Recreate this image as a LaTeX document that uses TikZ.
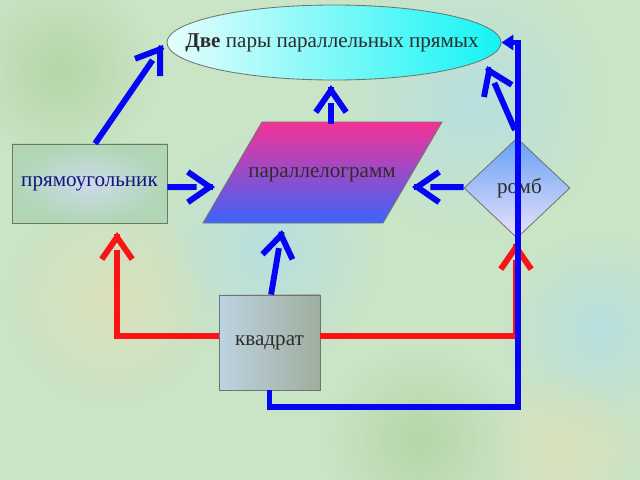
\documentclass[tikz,border=0pt]{standalone}
\usepackage{fontspec}
\setmainfont{Liberation Serif}
\usetikzlibrary{arrows.meta,shapes.geometric,fadings,calc}
\definecolor{bgbase}{RGB}{202,228,198}
\definecolor{bgblue}{RGB}{184,224,224}
\definecolor{bgtan}{RGB}{218,224,186}
\definecolor{bggreen}{RGB}{182,214,168}
\definecolor{lineblue}{RGB}{5,5,245}
\definecolor{linered}{RGB}{250,20,20}
\definecolor{ellL}{RGB}{230,253,253}
\definecolor{ellR}{RGB}{20,244,244}
\definecolor{parT}{RGB}{245,50,150}
\definecolor{parB}{RGB}{60,100,250}
\definecolor{recIn}{RGB}{205,218,234}
\definecolor{recOut}{RGB}{176,214,180}
\definecolor{sqL}{RGB}{190,210,226}
\definecolor{sqR}{RGB}{158,174,158}
\definecolor{diaT}{RGB}{100,160,245}
\definecolor{diaB}{RGB}{236,226,250}
\definecolor{edgegray}{RGB}{110,118,110}
\definecolor{textnavy}{RGB}{20,20,130}
\definecolor{textdark}{RGB}{45,45,45}
\tikzfading[name=softblob, inner color=transparent!0, outer color=transparent!100]
\begin{document}
\begin{tikzpicture}[x=0.025cm,y=-0.025cm,
  font=\fontsize{15}{18}\selectfont,
  bl/.style={draw=lineblue, line width=4.2pt},
  rd/.style={draw=linered, line width=4.2pt},
  shaft/.style={shorten >=0.46cm},
  chev/.style={-{Straight Barb[length=0.55cm,width=0.76cm]}},
  tri/.style={-{Triangle[length=0.3cm,width=0.38cm]}},
  ellbox/.style={shape=ellipse, draw=edgegray, line width=0.6pt, minimum width=8.35cm, minimum height=1.875cm, inner sep=0pt, left color=ellL, right color=ellR, text=textdark},
  rectbox/.style={shape=rectangle, draw=edgegray, line width=0.6pt, minimum width=3.875cm, minimum height=1.975cm, inner sep=0pt, inner color=recIn, outer color=recOut, text=textnavy},
  sqbox/.style={shape=rectangle, draw=edgegray, line width=0.6pt, minimum width=2.525cm, minimum height=2.375cm, inner sep=0pt, left color=sqL, right color=sqR, text=textdark},
  diam/.style={shape=diamond, draw=edgegray, line width=0.6pt, minimum width=2.65cm, minimum height=2.5cm, inner sep=0pt, top color=diaT, bottom color=diaB, text=textdark},
  lbl/.style={inner sep=0pt},
  blob/.style={path fading=softblob}
]
% background
\fill[bgbase] (0,0) rectangle (640,480);
\useasboundingbox (0,0) rectangle (640,480);
\fill[bgblue, blob] (470,100) circle (3.4cm);
\fill[bgblue, blob] (270,250) circle (2.8cm);
\fill[bgtan, blob] (110,300) circle (2.6cm);
\fill[bggreen, blob] (60,70) circle (2.4cm);
\fill[bggreen, blob] (420,440) circle (2.4cm);
\fill[bgblue, blob] (600,330) circle (2.4cm);
\fill[bgtan, blob] (560,450) circle (2.0cm);

% shapes
\node[ellbox] (ell) at (334,42.5) {\makebox[0pt]{\hspace{-0.1cm}\textbf{Две} пары параллельных прямых}};
\shade[top color=parT, bottom color=parB, draw=edgegray, line width=0.6pt]
  (262,122) -- (442,122) -- (383,223) -- (203,223) -- cycle;
\node[lbl, text=textdark] (par) at (322,175) {параллелограмм};
\node[rectbox] (rect) at (89.5,183.5) {прямоугольник};
\node[diam] (romb) at (517,188) {\makebox[0pt]{\hspace{0.12cm}ромб}};
\node[sqbox] (sq) at (269.5,342.5) {квадрат};

% named connector ends
\coordinate (s1) at ([xshift=0.14cm]rect.north);
\coordinate (t1) at (163,45);
\coordinate (p2) at (331,124);
\coordinate (t2) at (331,85);
\coordinate (s3) at ([yshift=-0.09cm]rect.east);
\coordinate (t3) at (215,187);
\coordinate (s4) at ([yshift=0.02cm]romb.west);
\coordinate (t4) at (412,187);
\coordinate (s5) at ([xshift=0.04cm]sq.north);
\coordinate (t5) at (282,230);
\coordinate (c6) at (515,130);
\coordinate (t6) at (487,66);
\coordinate (rb) at (518,407);
\coordinate (r1) at (117,232);
\coordinate (r2) at (516,242);

% red connectors
\draw[rd,shaft] ([yshift=0.16cm]sq.west) -| (r1);
\draw[rd,chev] ([yshift=-0.05cm]r1) -- (r1);
\draw[rd,shaft] ([yshift=0.16cm]sq.east) -| (r2);
\draw[rd,chev] ([yshift=-0.05cm]r2) -- (r2);

% blue connectors
\draw[bl,shaft] (s1) -- (t1);
\draw[bl,chev] ($(t1)!0.05cm!(s1)$) -- (t1);
\draw[bl,shaft] (p2) -- (t2);
\draw[bl,chev] ($(t2)!0.05cm!(p2)$) -- (t2);
\draw[bl,shaft] (s3) -- (t3);
\draw[bl,chev] ($(t3)!0.05cm!(s3)$) -- (t3);
\draw[bl,shaft] (s4) -- (t4);
\draw[bl,chev] ($(t4)!0.05cm!(s4)$) -- (t4);
\draw[bl,shaft] (s5) -- (t5);
\draw[bl,chev] ($(t5)!0.05cm!(s5)$) -- (t5);
\draw[bl,shaft] (c6) -- (t6);
\draw[bl,chev] ($(t6)!0.05cm!(c6)$) -- (t6);
\draw[bl,tri] (sq.south) |- (rb) |- (ell.east);
\end{tikzpicture}
\end{document}
